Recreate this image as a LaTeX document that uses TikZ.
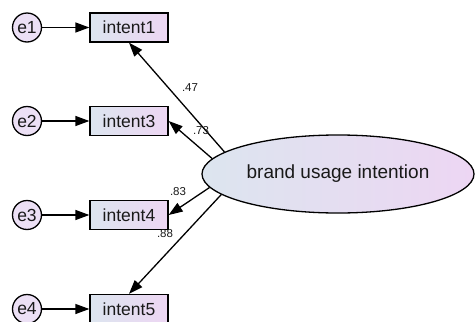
\documentclass[tikz,border=0pt]{standalone}
\usepackage{fontspec}
\setmainfont{Liberation Sans}
\usetikzlibrary{shapes.geometric,arrows.meta,positioning}
\definecolor{cBlue}{RGB}{220,229,239}
\definecolor{cPink}{RGB}{237,214,243}
\definecolor{cErr} {RGB}{236,224,245}
\definecolor{cText}{RGB}{25,25,25}
\tikzset{
  obsbox/.style={draw,line width=1.3pt,minimum width=78pt,minimum height=29pt,
    inner sep=0pt,left color=cBlue,right color=cPink,text=cText,
    font=\fontsize{17.5}{19}\selectfont},
  errnode/.style={circle,draw,line width=1.3pt,minimum size=29pt,inner sep=0pt,
    fill=cErr,text=cText,font=\fontsize{17.5}{19}\selectfont},
  latent/.style={ellipse,draw,line width=1.3pt,minimum width=272pt,minimum height=78pt,
    inner sep=0pt,left color=cBlue,right color=cPink,text=cText,
    font=\fontsize{19}{21}\selectfont},
  regpath/.style={-{Triangle[length=14pt,width=10pt]},line width=1.3pt},
  coef/.style={text=cText,font=\fontsize{11.5}{13}\selectfont}
}
\begin{document}
\begin{tikzpicture}[x=1pt,y=-1pt]
\useasboundingbox (0,0) rectangle (475,322);

% latente
\node[latent] (bui) at (338,174) {brand usage intention};

% indicadores e erros
\foreach \k/\n/\y in {1/1/27.5, 2/3/121, 3/4/215, 4/5/309}{
  \node[errnode] (e\k) at (27,\y) {e\k};
  \node[obsbox] (i\n) at (129,\y) {intent\n};
  \draw[regpath] (e\k) -- (i\n);
}

% cargas
\draw[regpath] (bui.169) -- (i1.south);
\draw[regpath] (bui.173.5) -- (i3.east);
\draw[regpath] (bui.186) -- (i4.east);
\draw[regpath] (bui.190.5) -- (i5.north);

\node[coef] (c1) at (190,88) {.47};
\node[coef] (c3) at (201,131) {.73};
\node[coef] (c4) at (178,192) {.83};
\node[coef] (c5) at (165,234) {.88};

\end{tikzpicture}
\end{document}
